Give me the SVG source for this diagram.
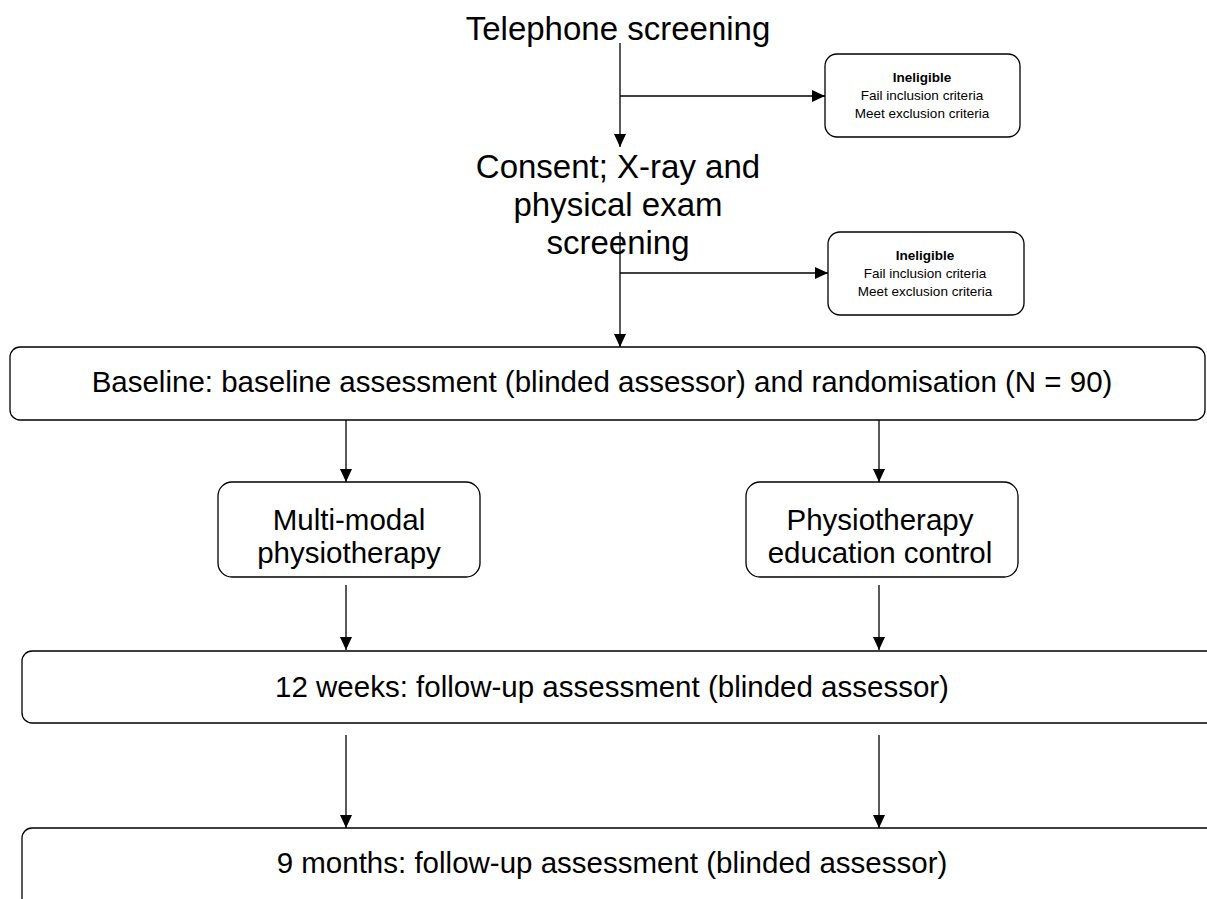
<svg xmlns="http://www.w3.org/2000/svg" width="1207" height="899" viewBox="0 0 1207 899">
<style>
.box{fill:#fff;stroke:#000;stroke-width:1.3}
.ln{stroke:#000;stroke-width:1.3;fill:none}
.t{font-family:"Liberation Sans",Arial,sans-serif;fill:#000;text-anchor:middle}
.big{font-size:33px}
.mid{font-size:29.5px}
.sm{font-size:13.5px}
.b{font-weight:bold}
</style>
<defs>
<marker id="ah" markerWidth="13" markerHeight="12" refX="13" refY="6" orient="auto" markerUnits="userSpaceOnUse">
<path d="M0,0 L13,6 L0,12 Z" fill="#000"/>
</marker>
</defs>
<rect width="1207" height="899" fill="#fff"/>
<g id="connectors">
<line class="ln" x1="620" y1="43" x2="620" y2="147" marker-end="url(#ah)"/>
<line class="ln" x1="620" y1="96" x2="825" y2="96" marker-end="url(#ah)"/>
<line class="ln" x1="620" y1="232" x2="620" y2="347" marker-end="url(#ah)"/>
<line class="ln" x1="620" y1="273" x2="828" y2="273" marker-end="url(#ah)"/>
<line class="ln" x1="346" y1="420" x2="346" y2="482" marker-end="url(#ah)"/>
<line class="ln" x1="879" y1="420" x2="879" y2="482" marker-end="url(#ah)"/>
<line class="ln" x1="346" y1="585" x2="346" y2="650" marker-end="url(#ah)"/>
<line class="ln" x1="879" y1="585" x2="879" y2="650" marker-end="url(#ah)"/>
<line class="ln" x1="346" y1="735" x2="346" y2="828" marker-end="url(#ah)"/>
<line class="ln" x1="879" y1="735" x2="879" y2="828" marker-end="url(#ah)"/>
</g>
<g id="telephone">
<text class="t big" x="618" y="40">Telephone screening</text>
</g>
<g id="ineligible1">
<rect class="box" x="825" y="54" width="195" height="83" rx="12"/>
<text class="t sm b" x="922" y="82">Ineligible</text>
<text class="t sm" x="922" y="100">Fail inclusion criteria</text>
<text class="t sm" x="922" y="118">Meet exclusion criteria</text>
</g>
<g id="consent">
<text class="t big" x="618" y="178">Consent; X-ray and</text>
<text class="t big" x="618" y="216">physical exam</text>
<text class="t big" x="618" y="254">screening</text>
</g>
<g id="ineligible2">
<rect class="box" x="828" y="232" width="196" height="83" rx="12"/>
<text class="t sm b" x="925" y="260">Ineligible</text>
<text class="t sm" x="925" y="278">Fail inclusion criteria</text>
<text class="t sm" x="925" y="296">Meet exclusion criteria</text>
</g>
<g id="baseline">
<rect class="box" x="10" y="347" width="1195" height="73" rx="10"/>
<text class="t mid" x="602" y="392">Baseline: baseline assessment (blinded assessor) and randomisation (N = 90)</text>
</g>
<g id="multimodal">
<rect class="box" x="218" y="482" width="262" height="95" rx="14"/>
<text class="t mid" x="349" y="530">Multi-modal</text>
<text class="t mid" x="349" y="563">physiotherapy</text>
</g>
<g id="control">
<rect class="box" x="746" y="482" width="272" height="95" rx="14"/>
<text class="t mid" x="880" y="530">Physiotherapy</text>
<text class="t mid" x="880" y="563">education control</text>
</g>
<g id="weeks12">
<rect class="box" x="22" y="651" width="1200" height="72" rx="10"/>
<text class="t mid" x="612" y="697">12 weeks: follow-up assessment (blinded assessor)</text>
</g>
<g id="months9">
<rect class="box" x="22" y="828" width="1200" height="85" rx="10"/>
<text class="t mid" x="612" y="873">9 months: follow-up assessment (blinded assessor)</text>
</g>
</svg>
